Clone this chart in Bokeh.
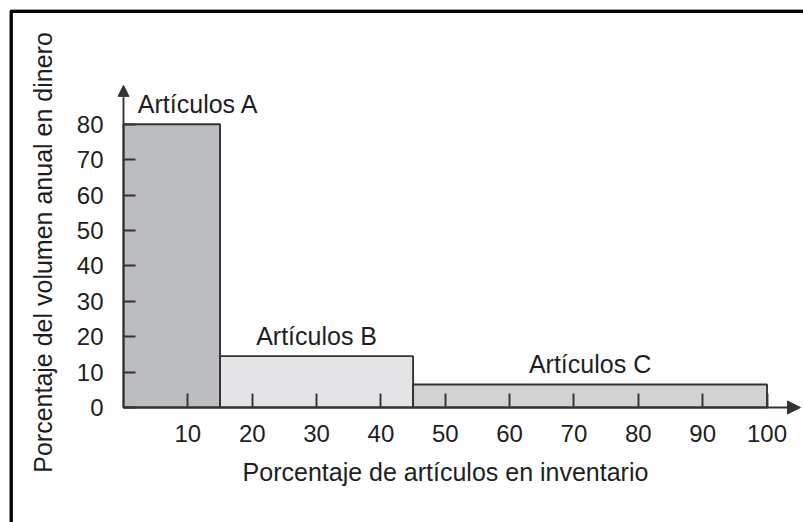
from bokeh.plotting import figure
from bokeh.models import (Range1d, FixedTicker, Arrow, NormalHead, ColumnDataSource,
                          BoxAnnotation)
from bokeh.embed import file_html
from bokeh.resources import INLINE
from bokeh.core.properties import value

# ---- data ----
categories = ["Artículos A", "Artículos B", "Artículos C"]
item_share = [15, 30, 55]          # % of inventory items in each class
value_share = [80, 14.5, 6.5]      # % of annual money volume
bar_colors = ["#bcbdc0", "#e4e4e6", "#d2d2d4"]
x_ticks = [10, 20, 30, 40, 50, 60, 70, 80, 90, 100]
y_ticks = [0, 10, 20, 30, 40, 50, 60, 70, 80]
x_title = "Porcentaje de artículos en inventario"
y_title = "Porcentaje del volumen anual en dinero"

lefts, rights = [], []
acc = 0
for w in item_share:
    lefts.append(acc)
    acc += w
    rights.append(acc)
centers = [(l + r) / 2 for l, r in zip(lefts, rights)]
LABEL_PAD = 5.8  # data units between bar top and label anchor
label_y = [v + LABEL_PAD for v in value_share]

src = ColumnDataSource(dict(left=lefts, right=rights, top=value_share,
                            color=bar_colors, cx=centers, ly=label_y,
                            label=categories, xoff=[26.5, 0, 0]))

FONT = "Liberation Sans"
INK = "#1e1e1e"
LINE = "#333333"
LW = 1.9

X_END = 105.2   # tip of the x-axis arrow
Y_END = 91.0    # tip of the y-axis arrow
Y_RULE = 87.6   # where the plain y-axis line hands over to the arrow

p = figure(width=803, height=522, output_backend="svg", toolbar_location=None,
           title=None, x_range=Range1d(-17.72, 105.67), y_range=Range1d(-32.49, 112.43),
           min_border_left=9, min_border_right=0, min_border_top=9, min_border_bottom=0)
p.outline_line_color = None
p.xgrid.visible = False
p.ygrid.visible = False
p.border_fill_color = "white"
p.background_fill_color = "white"

p.quad(left="left", right="right", bottom=0, top="top", source=src,
       fill_color="color", line_color=LINE, line_width=LW)

p.text(x="cx", y="ly", text="label", source=src, x_offset="xoff",
       text_align="center", text_baseline="alphabetic",
       text_font=value(FONT), text_font_size="25px", text_color=INK)

for ax in p.xaxis:
    ax.fixed_location = 0
    ax.bounds = (0, max(x_ticks))
    ax.ticker = FixedTicker(ticks=x_ticks)
    ax.major_tick_in = 14
    ax.major_tick_out = 0
    ax.minor_tick_line_color = None
    ax.axis_line_color = LINE
    ax.axis_line_width = LW
    ax.major_tick_line_color = LINE
    ax.major_tick_line_width = LW
    ax.major_label_standoff = 18
    ax.major_label_text_font = FONT
    ax.major_label_text_font_size = "24px"
    ax.major_label_text_color = INK
    ax.axis_label = x_title
    ax.axis_label_standoff = 12
    ax.axis_label_text_font = FONT
    ax.axis_label_text_font_size = "25px"
    ax.axis_label_text_font_style = "normal"
    ax.axis_label_text_color = INK

for ax in p.yaxis:
    ax.fixed_location = 0
    ax.bounds = (0, Y_RULE)
    ax.ticker = FixedTicker(ticks=y_ticks)
    ax.major_tick_in = 12
    ax.major_tick_out = 0
    ax.minor_tick_line_color = None
    ax.axis_line_color = LINE
    ax.axis_line_width = LW
    ax.major_tick_line_color = LINE
    ax.major_tick_line_width = LW
    ax.major_label_standoff = 20
    ax.major_label_text_font = FONT
    ax.major_label_text_font_size = "24px"
    ax.major_label_text_color = INK
    ax.axis_label = y_title
    ax.axis_label_standoff = 17
    ax.axis_label_text_font = FONT
    ax.axis_label_text_font_size = "25px"
    ax.axis_label_text_font_style = "normal"
    ax.axis_label_text_color = INK

p.add_layout(Arrow(end=NormalHead(size=11, fill_color=LINE, line_color=LINE, line_width=1),
                   x_start=0, y_start=Y_RULE, x_end=0, y_end=Y_END,
                   line_color=LINE, line_width=LW))
p.add_layout(Arrow(end=NormalHead(size=13, fill_color=LINE, line_color=LINE, line_width=1),
                   x_start=max(x_ticks), y_start=0, x_end=X_END, y_end=0,
                   line_color=LINE, line_width=LW))

# outer frame of the figure (only top and left edges fall inside the picture)
p.add_layout(BoxAnnotation(left=10.5, right=1000, top=10.6, bottom=1000,
                           left_units="canvas", right_units="canvas",
                           top_units="canvas", bottom_units="canvas",
                           fill_color=None, fill_alpha=0,
                           line_color="black", line_alpha=1.0, line_width=3.8,
                           level="overlay"))

open("out.html", "w").write(file_html(p, INLINE))
